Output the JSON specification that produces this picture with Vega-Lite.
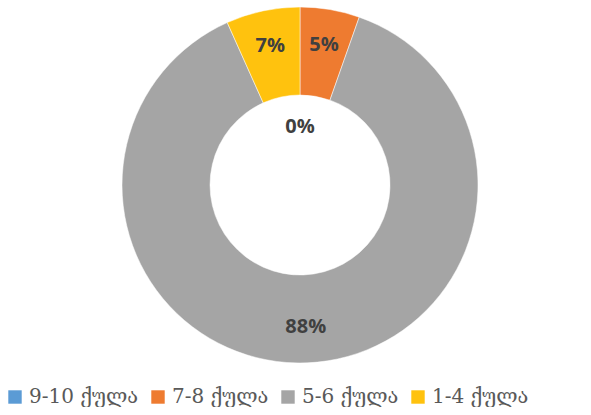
{
  "$schema": "https://vega.github.io/schema/vega-lite/v6.json",
  "width": 600,
  "height": 370,
  "padding": 0,
  "autosize": {"type": "pad"},
  "background": "#ffffff",
  "data": {
    "values": [
      {"category": "9-10 ქულა", "share": 0.0},
      {"category": "7-8 ქულა", "share": 0.054},
      {"category": "5-6 ქულა", "share": 0.879},
      {"category": "1-4 ქულა", "share": 0.067}
    ]
  },
  "encoding": {
    "theta": {"field": "share", "type": "quantitative", "stack": true},
    "order": {"field": "category", "sort": "descending"}
  },
  "layer": [
    {
      "mark": {"type": "arc", "outerRadius": 178, "innerRadius": 90, "stroke": "#ffffff", "strokeWidth": 0.5},
      "encoding": {
        "color": {
          "field": "category",
          "type": "nominal",
          "scale": {
            "domain": ["9-10 ქულა", "7-8 ქულა", "5-6 ქულა", "1-4 ქულა"],
            "range": ["#5B9BD5", "#EE7B30", "#A5A5A5", "#FFC20E"]
          },
          "legend": {
            "title": null,
            "orient": "none",
            "legendX": 5,
            "legendY": 387,
            "direction": "horizontal",
            "symbolType": "square",
            "symbolSize": 180,
            "symbolStrokeWidth": 0,
            "labelFont": "DejaVu Serif",
            "labelFontSize": 20,
            "labelColor": "#595959",
            "labelOffset": 4,
            "columnPadding": 9
          }
        }
      }
    },
    {
      "mark": {"type": "text", "radius": 142, "font": "Open Sans", "fontWeight": "bold", "fontSize": 20, "color": "#404040"},
      "encoding": {
        "text": {"field": "share", "type": "quantitative", "format": ".0%"},
        "opacity": {"condition": {"test": "datum.share == 0", "value": 0}, "value": 1}
      }
    },
    {
      "mark": {"type": "text", "radius": 58, "font": "Open Sans", "fontWeight": "bold", "fontSize": 20, "color": "#404040"},
      "encoding": {
        "text": {"field": "share", "type": "quantitative", "format": ".0%"},
        "opacity": {"condition": {"test": "datum.share == 0", "value": 1}, "value": 0}
      }
    }
  ]
}
